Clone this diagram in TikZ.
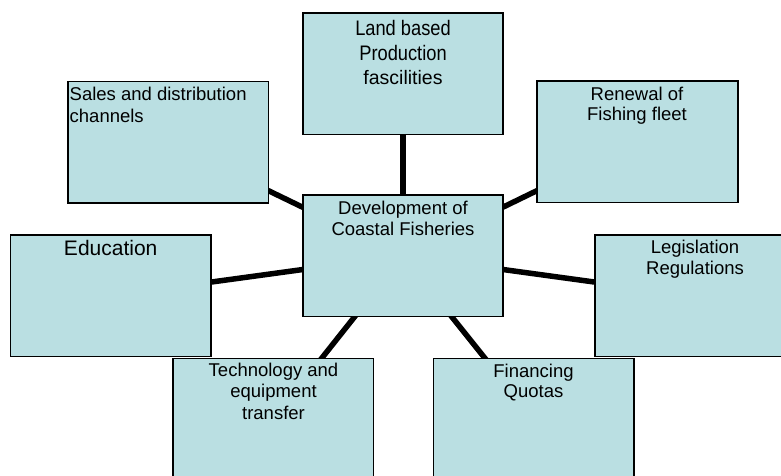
\documentclass[tikz,border=0pt]{standalone}
\usepackage{fontspec}
\setmainfont{Liberation Sans}
\newfontfamily\narrowf[FakeStretch=0.87]{Liberation Sans}
\usetikzlibrary{backgrounds}
\definecolor{boxfill}{RGB}{186,223,226}
\begin{document}
\begin{tikzpicture}[x=1pt,y=-1pt,
  box/.style={draw=black, line width=1.6pt, fill=boxfill, minimum width=200.5pt, minimum height=121.5pt, inner sep=0pt, outer sep=0pt},
  lbl/.style={anchor=base, inner sep=0pt, font=\fontsize{18.5}{22}\selectfont},
  lblbig/.style={anchor=base, inner sep=0pt, font=\fontsize{21}{24}\selectfont},
  lblnarrow/.style={anchor=base, inner sep=0pt, font=\narrowf\fontsize{21}{24}\selectfont},
  link/.style={line width=5.5pt, black}]
\useasboundingbox (0,0) rectangle (781,475);
% boxes
\node[box] (land)   at (403,73.7)  {};
\node[box] (sales)  at (168.3,142.2) {};
\node[box] (renew)  at (637.5,141.7) {};
\node[box] (center) at (403,255.8) {};
\node[box] (edu)    at (110.7,295.8) {};
\node[box] (legis)  at (695,295.8) {};
\node[box] (tech)   at (273.3,419.2) {};
\node[box] (fin)    at (533.7,419.2) {};
% connectors
\begin{pgfonlayer}{background}
\draw[link] (center.center) -- (land.center);
\draw[link] (center.center) -- (sales.center);
\draw[link] (center.center) -- (renew.center);
\draw[link] (center.center) -- (edu.center);
\draw[link] (center.center) -- (legis.center);
\draw[link] (center.center) -- (tech.center);
\draw[link] (center.center) -- (fin.center);
\end{pgfonlayer}
% texts
\node[lblnarrow] (landA) at (403,35.7) {Land based};
\node[lblnarrow] (landB) at (403,60) {Production};
\node[lbl, font=\fontsize{19.5}{22}\selectfont] (landC) at (403,84) {fascilities};
\node[lbl, anchor=base west] (salesA) at (69.5,100.7) {Sales and distribution};
\node[lbl, anchor=base west] (salesB) at (69.5,122.3) {channels};
\node[lbl] (renewA) at (637,100.7) {Renewal of};
\node[lbl] (renewB) at (637,120.7) {Fishing fleet};
\node[lbl] (centerA) at (403,214) {Development of};
\node[lbl] (centerB) at (403,235) {Coastal Fisheries};
\node[lblbig] (eduA) at (110.7,255) {Education};
\node[lbl] (legisA) at (695,253.3) {Legislation};
\node[lbl] (legisB) at (695,274) {Regulations};
\node[lbl] (techA) at (273.5,376.7) {Technology and};
\node[lbl] (techB) at (273.5,397.7) {equipment};
\node[lbl] (techC) at (273.5,419) {transfer};
\node[lbl] (finA) at (533.5,377.3) {Financing};
\node[lbl] (finB) at (533.5,397.3) {Quotas};
\end{tikzpicture}
\end{document}
